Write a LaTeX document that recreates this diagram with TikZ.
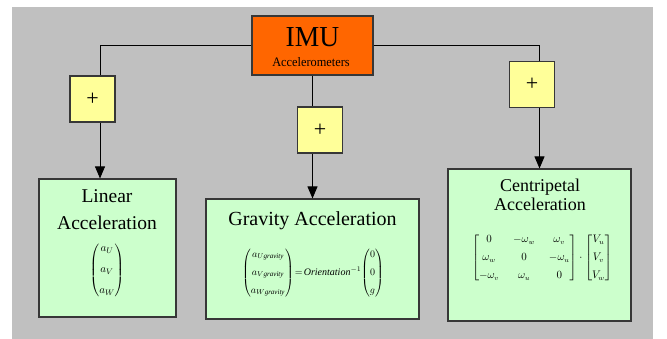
\documentclass[tikz,border=0pt]{standalone}
\usepackage{amsmath}
\usepackage{graphicx}
\usepackage{fontspec}
\setmainfont{Liberation Serif}
\usetikzlibrary{arrows.meta}
\definecolor{bggray}{RGB}{192,192,192}
\definecolor{imuorange}{RGB}{255,102,0}
\definecolor{plusyellow}{RGB}{255,255,153}
\definecolor{boxgreen}{RGB}{204,255,204}
\definecolor{edge}{RGB}{55,55,55}
\tikzset{
  box/.style={draw=edge, line width=1.1pt, inner sep=0pt},
  imubox/.style={box, fill=imuorange},
  plusbox/.style={box, fill=plusyellow, minimum width=45pt, minimum height=46pt, font=\fontsize{22}{22}\selectfont},
  greenbox/.style={box, fill=boxgreen},
  conn/.style={draw=black, line width=0.9pt},
  arr/.style={conn, -{Triangle[width=10pt,length=12pt]}},
  txt/.style={anchor=base, inner sep=0pt},
}
\begin{document}
\begin{tikzpicture}[x=1pt,y=-1pt]
\useasboundingbox (0,0) rectangle (667,339);
\fill[bggray] (12,7) rectangle (653,339);

% main boxes
\node[imubox, minimum width=121pt, minimum height=59pt] (imu) at (312.5,45.5) {};
\node[greenbox, minimum width=137pt, minimum height=138pt] (lin) at (107.5,248) {};
\node[greenbox, minimum width=213pt, minimum height=120pt] (grav) at (312.5,259) {};
\node[greenbox, minimum width=183pt, minimum height=152pt] (cen) at (539.5,245) {};

% connectors
\coordinate (lx) at (100,0);
\draw[arr] (imu.west) -| (lx |- lin.north);
\draw[arr] (imu.south) -- (grav.north);
\draw[arr] (imu.east) -| (cen.north);

% plus boxes
\node[plusbox] (pl) at (92.5,99) {+};
\node[plusbox] (pm) at (320,130) {+};
\node[plusbox] (pr) at (532,84.5) {+};

% IMU text
\node[txt, font=\fontsize{29}{29}\selectfont] (imut) at (312.5,47) {\scalebox{0.95}[1]{IMU}};
\node[txt, font=\fontsize{13}{13}\selectfont] (imus) at (311,67) {\scalebox{0.95}[1]{Accelerometers}};

% Linear
\node[txt, font=\fontsize{19.5}{19.5}\selectfont] (lt1) at (107,203) {Linear};
\node[txt, font=\fontsize{19.5}{19.5}\selectfont] (lt2) at (107,230) {Acceleration};
\node[inner sep=0pt, font=\fontsize{11}{13}\selectfont] (lm) at (107,270)
  {$\begin{pmatrix} a_U \\[8pt] a_V \\[8pt] a_W \end{pmatrix}$};

% Gravity
\node[txt, font=\fontsize{20}{20}\selectfont] (gt) at (312.5,226) {Gravity Acceleration};
\node[inner sep=0pt, font=\fontsize{10}{12}\selectfont] (gm) at (313,273)
  {$\begin{pmatrix} a_{U\mathit{gravity}} \\[6pt] a_{V\mathit{gravity}} \\[6pt] a_{W\mathit{gravity}} \end{pmatrix}
   \!=\! \mathit{Orientation}^{-1}\!
   \begin{pmatrix} 0 \\[6pt] 0 \\[6pt] g \end{pmatrix}$};

% Centripetal
\node[txt, font=\fontsize{18}{18}\selectfont] (ct1) at (540,192) {Centripetal};
\node[txt, font=\fontsize{18}{18}\selectfont] (ct2) at (540,211) {Acceleration};
\node[inner sep=0pt, font=\fontsize{10.5}{12}\selectfont] (cm) at (542,258)
  {\setlength{\arraycolsep}{7pt}$\begin{bmatrix} 0 & -\omega_w & \omega_v \\[6pt] \omega_w & 0 & -\omega_u \\[6pt] -\omega_v & \omega_u & 0 \end{bmatrix}
   \cdot
   {\setlength{\arraycolsep}{2pt}\begin{bmatrix} V_u \\[6pt] V_v \\[6pt] V_w \end{bmatrix}}$};
\end{tikzpicture}
\end{document}
